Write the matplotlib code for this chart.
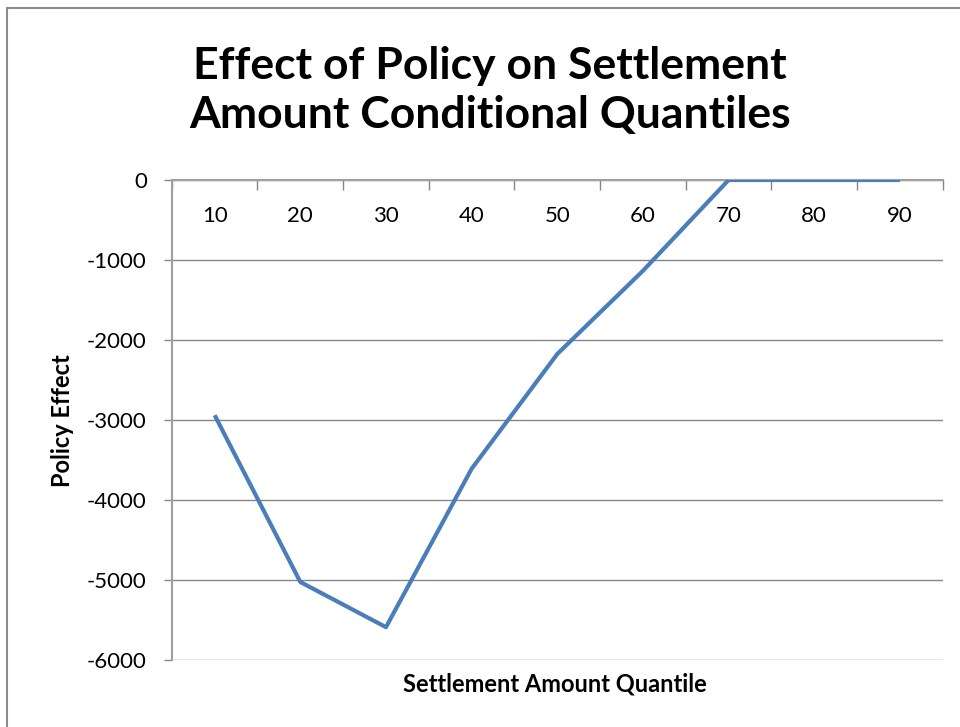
import numpy as np
import matplotlib
matplotlib.use("Agg")
import matplotlib.pyplot as plt
from matplotlib.patches import Rectangle

plt.rcParams['font.family'] = ['Lato', 'DejaVu Sans']
plt.rcParams['axes.unicode_minus'] = False

quantiles = ['10', '20', '30', '40', '50', '60', '70', '80', '90']
effect = [-2940, -5025, -5590, -3610, -2175, -1135, 0, 0, 0]
yticks = [0, -1000, -2000, -3000, -4000, -5000, -6000]

grid_col = '#868686'
line_col = '#4A7EBB'

fig = plt.figure(figsize=(9.6, 7.27), dpi=100)
ax = fig.add_axes([0.179, 0.0922, 0.803, 0.6602])

x = np.arange(len(quantiles))
ax.plot(x, effect, color=line_col, linewidth=3, solid_capstyle='butt', zorder=3)

ax.set_xlim(-0.5, len(quantiles) - 0.5)
ax.set_ylim(-6000, 0)

# category axis sits at y=0 (top), labels below it
ax.xaxis.tick_top()
ax.set_xticks(np.arange(-0.5, len(quantiles)), labels=[])
ax.set_xticks(x, labels=quantiles, minor=True)
ax.tick_params(axis='x', which='major', direction='in', length=7, width=1, color=grid_col)
ax.tick_params(axis='x', which='minor', length=0, pad=-33, labelsize=16)

ax.set_yticks(yticks)
ax.tick_params(axis='y', direction='out', length=6, width=1, color=grid_col, labelsize=16, pad=12)
ax.yaxis.grid(True, color=grid_col, linewidth=1)
ax.set_axisbelow(True)

for side in ['right', 'bottom']:
    ax.spines[side].set_visible(False)
for side in ['left', 'top']:
    ax.spines[side].set_color('#A0A0A0')
    ax.spines[side].set_linewidth(1.5)

fig.text(0.51, 0.876, 'Effect of Policy on Settlement\nAmount Conditional Quantiles',
         ha='center', va='center', fontsize=32, fontweight='bold', linespacing=1.27)
fig.text(0.065, 0.422, 'Policy Effect', rotation=90, ha='center', va='center',
         fontsize=17, fontweight='bold')
fig.text(0.578, 0.059, 'Settlement Amount Quantile', ha='center', va='center',
         fontsize=17, fontweight='bold')

# outer chart border (cropped on right and bottom)
fig.patches.append(Rectangle((0.0073, -0.1), 1.2, 1.089, transform=fig.transFigure,
                             fill=False, edgecolor='#8C8C8C', linewidth=1.5))

fig.savefig('out.png', dpi=100)
